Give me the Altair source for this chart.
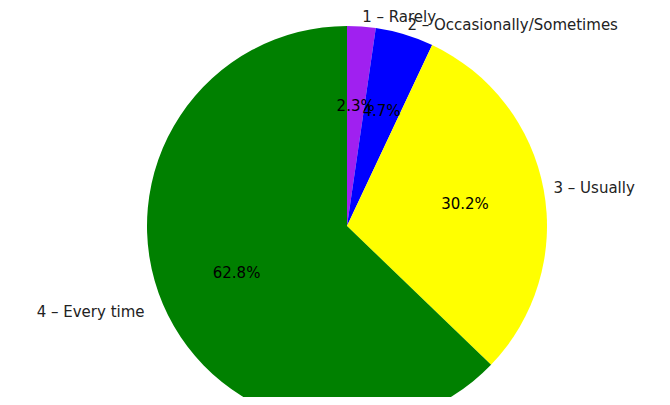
import altair as alt
import pandas as pd

labels = ["1 – Rarely", "2 – Occasionally/Sometimes", "3 – Usually", "4 – Every time"]
shares = [2.3, 4.7, 30.2, 62.8]
pct_text = ["2.3%", "4.7%", "30.2%", "62.8%"]
colors = ["#a020f0", "#0000ff", "#ffff00", "#008000"]
side = ["right", "right", "right", "left"]

df = pd.DataFrame({
    "label": labels,
    "share": shares,
    "pct": pct_text,
    "idx": list(range(len(labels))),
    "side": side,
})

R = 200
CX, CY = 339, 218
FS = 15

base = alt.Chart(df).encode(
    theta=alt.Theta("share:Q", stack=True),
    order=alt.Order("idx:Q"),
)

pie = base.mark_arc(outerRadius=R).encode(
    x=alt.value(CX), y=alt.value(CY),
    color=alt.Color("label:N", scale=alt.Scale(domain=labels, range=colors), legend=None),
)

pct = base.mark_text(font="DejaVu Sans", fontSize=FS, color="black", align="center", baseline="middle").encode(
    x=alt.value(CX), y=alt.value(CY),
    radius=alt.value(R * 0.6),
    text="pct:N",
)

out_right = base.mark_text(font="DejaVu Sans", fontSize=FS, color="#222222", align="left", baseline="middle").encode(
    x=alt.value(CX), y=alt.value(CY),
    radius=alt.value(R * 1.05),
    text=alt.condition(alt.datum.side == "right", "label:N", alt.value("")),
)

out_left = base.mark_text(font="DejaVu Sans", fontSize=FS, color="#222222", align="right", baseline="middle").encode(
    x=alt.value(CX), y=alt.value(CY),
    radius=alt.value(R * 1.1),
    text=alt.condition(alt.datum.side == "left", "label:N", alt.value("")),
)

chart = alt.layer(pie, pct, out_right, out_left).properties(
    width=654, height=389,
    autosize=alt.AutoSizeParams(type="none"),
    padding=0,
).configure(background="white").configure_view(stroke=None, strokeWidth=0)

chart.save("out.html", embed_options={"renderer": "svg", "actions": False})
